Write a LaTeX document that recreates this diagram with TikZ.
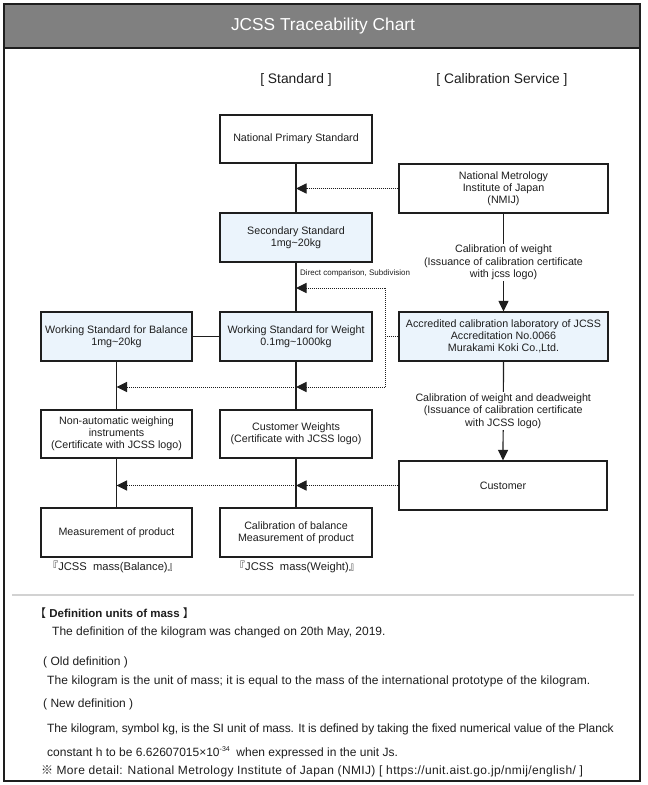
\documentclass[tikz,border=0pt]{standalone}
\usepackage{fontspec}
\setmainfont{Liberation Sans}
\newfontfamily\cjk{Noto Sans CJK JP}
\usetikzlibrary{arrows.meta}
\definecolor{lb}{RGB}{235,244,252}
\definecolor{hdr}{RGB}{128,128,128}
\definecolor{ink}{RGB}{30,30,30}
\definecolor{sep}{RGB}{210,210,210}
\begin{document}
\begin{tikzpicture}[x=1pt,y=-1pt,
 box/.style={draw=ink, line width=1.2pt, align=center, inner sep=0pt, font=\fontsize{10.7}{12.2}\selectfont, text=ink},
 bluebox/.style={box, fill=lb},
 conn/.style={draw=ink, line width=1.2pt},
 arr/.style={conn, -{Triangle[length=10.5pt,width=10pt]}},
 dotl/.style={draw=ink, line width=1pt, dash pattern=on 1pt off 1pt},
 darr/.style={dotl, -{Triangle[length=10.5pt,width=10pt]}},
 lbl/.style={fill=white, align=center, inner sep=1.5pt, font=\fontsize{10.7}{12.5}\selectfont, text=ink},
 txt/.style={anchor=west, inner sep=0pt, font=\fontsize{12}{14}\selectfont, text=ink},
 head/.style={font=\fontsize{13.8}{15}\selectfont, text=ink},
 tag/.style={inner sep=0pt, font=\fontsize{11.2}{13}\selectfont, text=ink},
]
\useasboundingbox (0,0) rectangle (648,785);
% frame and header
\fill[white] (0,0) rectangle (648,785);
\draw[ink, line width=1.2pt] (4,4) rectangle (640,781);
\filldraw[fill=hdr, draw=ink, line width=1.2pt] (4,4) rectangle (640,48);
\node[text=white, font=\fontsize{17.3}{20}\selectfont] (title) at (323,26) {JCSS Traceability Chart};
\node[head] (hstd) at (296,80) {[ Standard ]};
\node[head] (hcal) at (502,80) {[ Calibration Service ]};

% boxes
\node[box, minimum width=152pt, minimum height=48pt] (nps) at (296,139) {National Primary Standard};
\node[box, minimum width=209pt, minimum height=49pt] (nmij) at (503.5,188.5) {National Metrology\\Institute of Japan\\(NMIJ)};
\node[bluebox, minimum width=152pt, minimum height=49pt] (sec) at (296,237.5) {Secondary Standard\\1mg\textasciitilde 20kg};
\node[bluebox, minimum width=151pt, minimum height=49pt] (wsb) at (116.5,336.5) {Working Standard for Balance\\1mg\textasciitilde 20kg};
\node[bluebox, minimum width=152pt, minimum height=49pt] (wsw) at (296,336.5) {Working Standard for Weight\\0.1mg\textasciitilde 1000kg};
\node[bluebox, minimum width=209pt, minimum height=49pt] (acc) at (503.5,336.5) {Accredited calibration laboratory of JCSS\\Accreditation No.0066\\Murakami Koki Co.,Ltd.};
\node[box, minimum width=151pt, minimum height=48pt] (nai) at (116.5,434) {Non-automatic weighing\\instruments\\(Certificate with JCSS logo)};
\node[box, minimum width=152pt, minimum height=48pt] (cw) at (296,434) {Customer Weights\\(Certificate with JCSS logo)};
\node[box, minimum width=208pt, minimum height=49pt] (cust) at (503,485.5) {Customer};
\node[box, minimum width=151pt, minimum height=49pt] (mp) at (116.5,532.5) {Measurement of product};
\node[box, minimum width=152pt, minimum height=49pt] (cb) at (296,532.5) {Calibration of balance\\Measurement of product};
\node[tag] (mb) at (113,567) {\kern-0.5em{\cjk 『}JCSS\hspace{0.55em}mass(Balance){\cjk 』}\kern-0.5em};
\node[tag] (mw) at (297,567) {\kern-0.5em{\cjk 『}JCSS\hspace{0.55em}mass(Weight){\cjk 』}\kern-0.5em};

% solid connectors
\draw[conn] (nps.south) -- (sec.north);
\draw[conn] (sec.south) -- (wsw.north);
\draw[conn] (wsb.east) -- (wsw.west);
\draw[conn] (wsb.south) -- (nai.north);
\draw[conn] (wsw.south) -- (cw.north);
\draw[conn] (nai.south) -- (mp.north);
\draw[conn] (cw.south) -- (cb.north);
\draw[arr] (nmij.south) -- node[lbl] (l1) {Calibration of weight\\(Issuance of calibration certificate\\with jcss logo)} (acc.north);
\draw[arr] (acc.south) -- node[lbl] (l2) {Calibration of weight and deadweight\\(Issuance of calibration certificate\\with JCSS logo)} (cust.north);

% dotted connectors
\coordinate (c1) at (385,288);
\coordinate (c2) at (385,387);
\draw[darr] (nmij.west) -- (nps.south |- nmij.west);
\draw[dotl] (acc.west) -- (acc.west -| c1);
\draw[dotl] (c1) -- (c2);
\draw[darr] (c1) -- (sec.south |- c1);
\draw[darr] (c2) -- (wsw.south |- c2);
\draw[darr] (wsw.south |- c2) -- (wsb.south |- c2);
\draw[darr] (cust.west) -- (cw.south |- cust.west);
\draw[darr] (cw.south |- cust.west) -- (nai.south |- cust.west);
\node[font=\fontsize{8}{9}\selectfont, text=ink, anchor=west, inner sep=0pt] (dc) at (300,273) {Direct comparison, Subdivision};

% separator and definitions
\draw[sep, line width=2pt] (12,595) -- (634,595);
\node[txt, font=\fontsize{11.5}{13}\selectfont] (t0) at (34.5,613) {{\cjk 【} \textbf{Definition units of mass} {\cjk 】}};
\node[txt] (t1) at (52,632) {The definition of the kilogram was changed on 20th May, 2019.};
\node[txt] (t2) at (43,662) {( Old definition )};
\node[txt] (t3) at (47,681) {\addfontfeature{LetterSpace=1}The kilogram is the unit of mass; it is equal to the mass of the international prototype of the kilogram.};
\node[txt] (t4) at (43,704) {( New definition )};
\node[txt] (t5) at (47,729) {\addfontfeature{LetterSpace=-1}The kilogram, symbol kg, is the SI unit of mass. It is defined by taking the fixed numerical value of the Planck};
\node[txt] (t6) at (47,753) {constant h to be 6.62607015\texttimes 10\raisebox{0.45em}{\fontsize{7}{8}\selectfont -34}\ \ when expressed in the unit Js.};
\node[txt] (t7) at (41,771) {{\cjk ※} \addfontfeature{LetterSpace=3}More detail: National Metrology Institute of Japan (NMIJ) [ https://unit.aist.go.jp/nmij/english/ ]};
\end{tikzpicture}
\end{document}
